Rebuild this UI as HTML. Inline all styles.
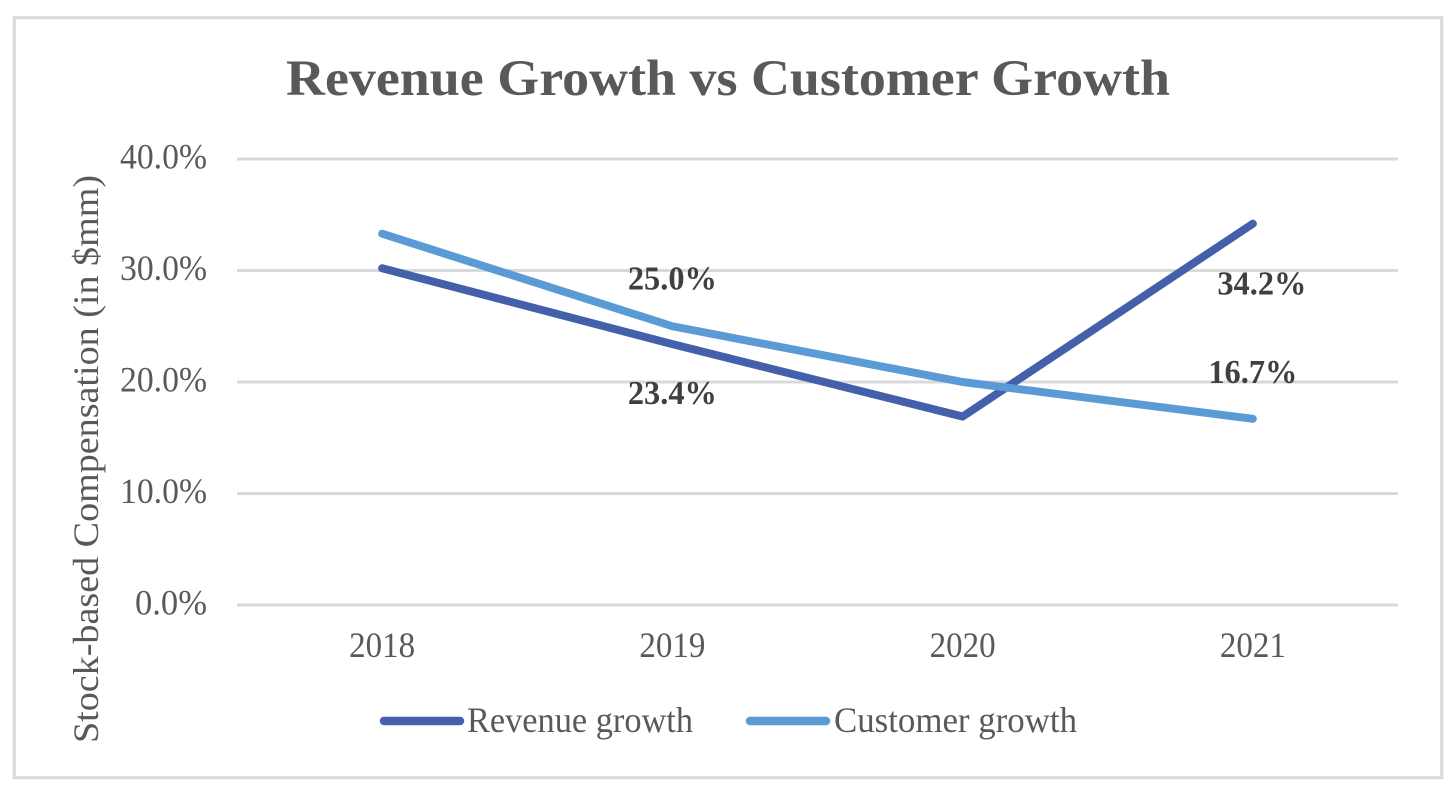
<!DOCTYPE html>
<html lang="en">
<head>
<meta charset="utf-8">
<title>Revenue Growth vs Customer Growth</title>
<style>
html,body{margin:0;padding:0;background:#fff;width:1456px;height:798px;overflow:hidden}
svg{display:block}
text{font-family:"Liberation Serif",serif}
</style>
</head>
<body>
<svg id="chart" xmlns="http://www.w3.org/2000/svg" width="1456" height="798" viewBox="0 0 1456 798">
  <rect x="14.25" y="17.75" width="1427.5" height="760" fill="#fff" stroke="#d9d9d9" stroke-width="3"/>
  <text x="728" y="95" text-anchor="middle" font-size="51" font-weight="700" fill="#595959" textLength="884" lengthAdjust="spacingAndGlyphs">Revenue Growth vs Customer Growth</text>
  <text transform="translate(98,459) rotate(-90)" text-anchor="middle" font-size="35.5" fill="#595959" textLength="568" lengthAdjust="spacingAndGlyphs">Stock-based Compensation (in $mm)</text>
  <g id="grid"></g>
  <g id="yticks"></g>
  <g id="xticks"></g>
  <g id="series"></g>
  <g id="labels"></g>
  <g>
    <g>
      <line x1="384" y1="721" x2="460" y2="721" stroke="#4460ab" stroke-width="8.5" stroke-linecap="round"/>
      <text x="467" y="732" font-size="35.5" fill="#595959" textLength="226" lengthAdjust="spacingAndGlyphs">Revenue growth</text>
    </g>
    <g>
      <line x1="750" y1="721" x2="826" y2="721" stroke="#5b9bd5" stroke-width="8.5" stroke-linecap="round"/>
      <text x="834" y="732" font-size="35.5" fill="#595959" textLength="243" lengthAdjust="spacingAndGlyphs">Customer growth</text>
    </g>
  </g>
</svg>
<script>
const categories = ["2018", "2019", "2020", "2021"];
const revenueGrowth = [30.2, 23.4, 16.9, 34.2];
const customerGrowth = [33.3, 25.0, 20.0, 16.7];
const yTickValues = [0, 10, 20, 30, 40];
const revenueLabelled = [false, true, false, true];
const customerLabelled = [false, true, false, true];

const SVGNS = "http://www.w3.org/2000/svg";
const plot = { left: 237, right: 1398, top: 159, bottom: 605 };
const yMax = 40;
function xScale(i) {
  return plot.left + (i + 0.5) * (plot.right - plot.left) / categories.length;
}
function yScale(v) {
  return plot.bottom - (v / yMax) * (plot.bottom - plot.top);
}
function make(tag, attrs, parent) {
  const el = document.createElementNS(SVGNS, tag);
  for (const k in attrs) el.setAttribute(k, attrs[k]);
  parent.appendChild(el);
  return el;
}
const grid = document.getElementById("grid");
const yticks = document.getElementById("yticks");
const xticks = document.getElementById("xticks");
const series = document.getElementById("series");
const labels = document.getElementById("labels");

yTickValues.forEach(function (v) {
  const line = make("line", { x1: plot.left, x2: plot.right, y1: yScale(v), y2: yScale(v), stroke: "#d9d9d9", "stroke-width": 3 }, grid);
  
  
  const str = v.toFixed(1) + "%";
  const t = make("text", { x: 207, y: yScale(v) + 9.5, "text-anchor": "end", "font-size": 35.5, fill: "#595959", textLength: 87 - (5 - str.length) * 15, lengthAdjust: "spacingAndGlyphs" }, yticks);
  t.textContent = str;
  
  
});

categories.forEach(function (c, i) {
  const t = make("text", { x: xScale(i), y: 657, "text-anchor": "middle", "font-size": 35.5, fill: "#595959", textLength: 66, lengthAdjust: "spacingAndGlyphs" }, xticks);
  t.textContent = c;
  
  
});

function drawLine(values, color) {
  const pts = values.map(function (v, i) { return xScale(i) + "," + yScale(v); }).join(" ");
  const p = make("polyline", { points: pts, fill: "none", stroke: color, "stroke-width": 8, "stroke-linecap": "round", "stroke-linejoin": "round" }, series);
  return p;
}
const revenueLine = drawLine(revenueGrowth, "#4460ab");


const customerLine = drawLine(customerGrowth, "#5b9bd5");



function drawLabels(values, flags, offsetFor) {
  values.forEach(function (v, i) {
    if (!flags[i]) return;
    const o = offsetFor(i);
    const t = make("text", { x: xScale(i) + o[0], y: yScale(v) + o[1], "text-anchor": "middle", "font-size": 34, "font-weight": 700, fill: "#404040", textLength: 89, lengthAdjust: "spacingAndGlyphs" }, labels);
    t.textContent = v.toFixed(1) + "%";
    
    
  });
}
drawLabels(revenueGrowth, revenueLabelled, function (i) { return i === 3 ? [9, 71] : [0, 60]; });
drawLabels(customerGrowth, customerLabelled, function (i) { return i === 3 ? [0, -36] : [0, -37]; });
</script>
</body>
</html>
